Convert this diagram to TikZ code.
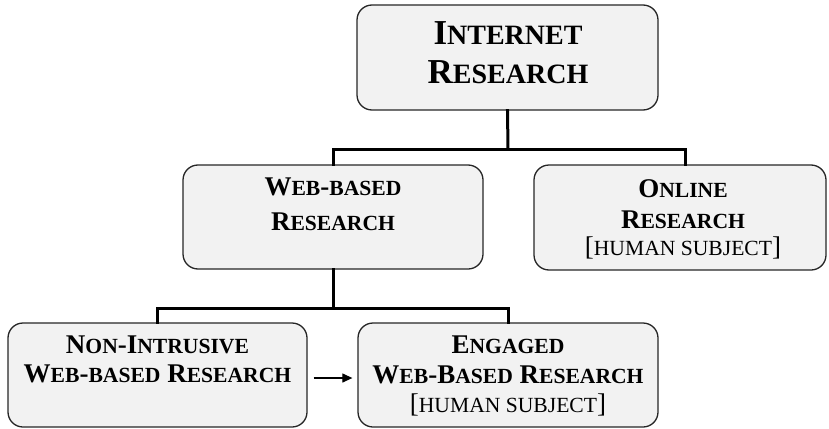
\documentclass[tikz,border=0pt]{standalone}
\usepackage{fontspec}
\setmainfont{Liberation Serif}
\usetikzlibrary{arrows.meta}
\makeatletter
\newcommand\myS[1]{{\fontsize{\fpeval{0.8*\f@size}}{\f@baselineskip}\selectfont #1}}
\makeatother
\definecolor{boxgray}{HTML}{F2F2F2}
\definecolor{edgegray}{HTML}{262626}
\tikzset{
  box/.style={draw=edgegray, line width=1.3pt, fill=boxgray, rounded corners=15pt, inner sep=0pt},
  txt/.style={inner sep=0pt, align=center, anchor=base},
  conn/.style={line width=3pt, draw=black, line cap=rect},
  arr/.style={line width=1.2pt, draw=black, -{Triangle[length=10pt,width=9pt]}},
  bigf/.style={font=\fontsize{35}{39}\selectfont\bfseries},
  midf/.style={font=\fontsize{27}{35}\selectfont\bfseries},
}
\begin{document}
\begin{tikzpicture}[x=1pt,y=-1pt]
\useasboundingbox (0,0) rectangle (829,428);
% boxes
\node[box, minimum width=301pt, minimum height=105pt] (top) at (507.5,57.5) {};
\node[box, minimum width=300pt, minimum height=104pt] (web) at (333,217) {};
\node[box, minimum width=292pt, minimum height=105pt] (onl) at (680,217.5) {};
\node[box, minimum width=299pt, minimum height=104pt] (ni) at (157.5,375) {};
\node[box, minimum width=300pt, minimum height=104pt] (eng) at (508,375) {};
% texts (anchor base = baseline of the last line)
\node[txt, bigf] (ttop) at (508,83) {I\myS{NTERNET}\\R\myS{ESEARCH}};
\node[txt, midf] (tweb) at (333,230) {W\myS{EB}-\myS{BASED}\\R\myS{ESEARCH}};
\node[txt, font=\fontsize{27}{31}\selectfont\bfseries] (tonl) at (683,255) {O\myS{NLINE}\\R\myS{ESEARCH}\\[-4pt]{\mdseries[\myS{HUMAN SUBJECT}]}};
\node[txt, font=\fontsize{27}{29}\selectfont\bfseries] (tni) at (157.5,382) {N\myS{ON}-I\myS{NTRUSIVE}\\W\myS{EB}-\myS{BASED} R\myS{ESEARCH}};
\node[txt, font=\fontsize{27}{30}\selectfont\bfseries] (teng) at (508,412) {E\myS{NGAGED}\\W\myS{EB}-B\myS{ASED} R\myS{ESEARCH}\\[-1pt]{\mdseries[\myS{HUMAN SUBJECT}]}};
% connectors
\coordinate (j1) at (508,149);
\coordinate (j2) at (333,308);
\draw[conn] (top.south) -- (j1);
\draw[conn] (web.north) |- (j1) -| ([xshift=5pt]onl.north);
\draw[conn] (web.south) -- (j2);
\draw[conn] (ni.north) |- (j2) -| (eng.north);
\draw[arr] ([xshift=6pt,yshift=-3pt]ni.east) -- ([xshift=-5pt,yshift=-3pt]eng.west);
\end{tikzpicture}
\end{document}
